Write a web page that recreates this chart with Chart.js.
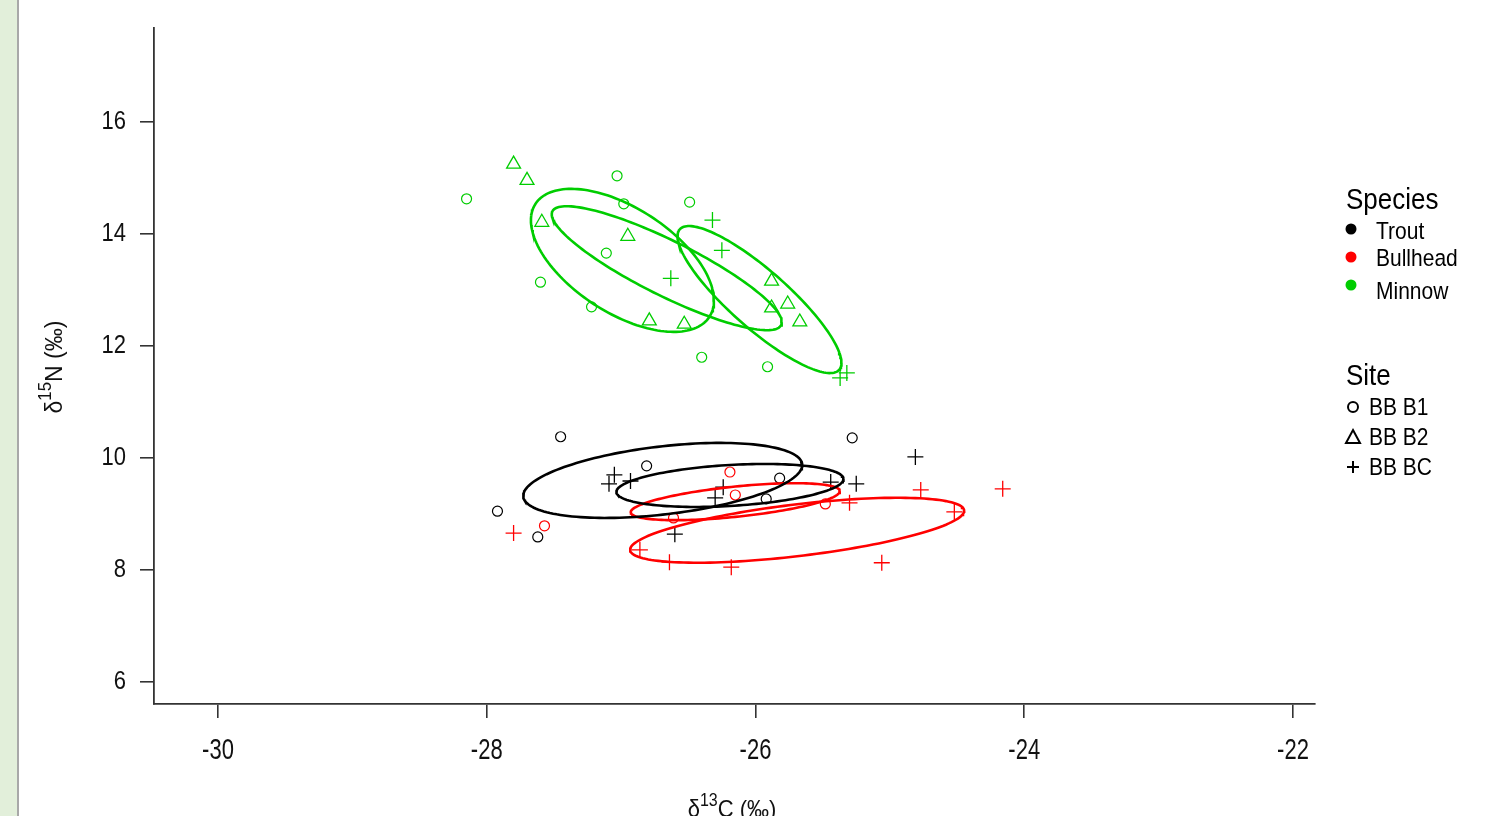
<!DOCTYPE html>
<html>
<head>
<meta charset="utf-8">
<title>Stable isotope biplot</title>
<script src="https://cdn.jsdelivr.net/npm/chart.js@4.4.0/dist/chart.umd.min.js"></script>
<style>
  html, body { margin: 0; padding: 0; background: #ffffff; overflow: hidden; }
  #strip { position: absolute; left: 0; top: 0; width: 17px; height: 816px; background: #e2efda; border-right: 2px solid #a8a8a8; }
  #wrap { position: absolute; left: 0; top: 0; width: 1512px; height: 816px; }
</style>
</head>
<body>
<div id="strip"></div>
<div id="wrap"><canvas id="c" width="1512" height="816"></canvas></div>
<script>
// ---- axis ticks ----
const xTicks = [-30, -28, -26, -24, -22];
const yTicks = [6, 8, 10, 12, 14, 16];

// ---- legend ----
const speciesNames  = ['Trout', 'Bullhead', 'Minnow'];
const speciesColors = ['#000000', '#ff0000', '#00cd00'];
const siteNames     = ['BB B1', 'BB B2', 'BB BC'];
const siteStyles    = ['circle', 'triangle', 'cross'];

// ---- samples: d13C (x) and d15N (y) ----
// Trout
const troutB1_C = [-27.45, -25.28, -26.81, -25.82, -25.92, -27.92, -27.62];
const troutB1_N = [10.38, 10.36, 9.86, 9.64, 9.27, 9.05, 8.59];
const troutBC_C = [-24.81, -25.25, -27.05, -27.09, -26.93, -26.24, -26.30, -26.60, -25.44];
const troutBC_N = [10.02, 9.54, 9.70, 9.54, 9.59, 9.48, 9.29, 8.64, 9.57];
// Bullhead
const bullB1_C = [-26.19, -26.15, -27.57, -25.48, -26.61];
const bullB1_N = [9.75, 9.34, 8.79, 9.18, 8.93];
const bullBC_C = [-27.80, -24.16, -24.77, -25.30, -24.52, -26.86, -26.64, -26.18, -25.06];
const bullBC_N = [8.66, 9.45, 9.43, 9.20, 9.04, 8.36, 8.14, 8.05, 8.13];
// Minnow
const minB1_C = [-28.15, -27.03, -26.98, -26.49, -27.11, -27.60, -27.22, -26.40, -25.91];
const minB1_N = [14.63, 15.04, 14.54, 14.57, 13.66, 13.14, 12.70, 11.80, 11.63];
const minB2_C = [-27.80, -27.70, -27.59, -26.95, -26.79, -26.53, -25.88, -25.88, -25.76, -25.67];
const minB2_N = [15.25, 14.96, 14.21, 13.96, 12.45, 12.39, 13.16, 12.68, 12.75, 12.43];
const minBC_C = [-26.32, -26.25, -26.63, -25.37, -25.32];
const minBC_N = [14.25, 13.71, 13.21, 11.43, 11.52];

// ---- standard ellipses: centre, half-extent in C and N, correlation ----
const ellSpecies = [0, 0, 1, 1, 2, 2, 2];
const ellCx  = [-26.69, -26.19, -26.15, -25.69, -26.99, -26.66, -25.97];
const ellCy  = [9.60, 9.51, 9.22, 8.71, 13.53, 13.39, 12.83];
const ellSx  = [1.038, 0.845, 0.778, 1.243, 0.681, 0.856, 0.610];
const ellSy  = [0.670, 0.384, 0.330, 0.580, 1.277, 1.107, 1.313];
const ellRho = [0.41, 0.30, 0.57, 0.60, -0.56, -0.87, -0.86];

const FONT = "'Liberation Sans', Arial, Helvetica, sans-serif";
const AXIS_COLOR = '#333333';

function pairs(xs, ys) { return xs.map((x, i) => ({ x: x, y: ys[i] })); }

function ellipseOutline(k, steps) {
  const pts = [];
  const s = Math.sqrt(1 - ellRho[k] * ellRho[k]);
  for (let i = 0; i <= steps; i++) {
    const t = (i / steps) * Math.PI * 2;
    pts.push({
      x: ellCx[k] + ellSx[k] * Math.cos(t),
      y: ellCy[k] + ellSy[k] * (ellRho[k] * Math.cos(t) + s * Math.sin(t))
    });
  }
  return pts;
}

function pointSet(xs, ys, species, site) {
  const style = siteStyles[site];
  return {
    label: speciesNames[species] + ' ' + siteNames[site],
    data: pairs(xs, ys),
    pointStyle: style,
    pointRadius: style === 'circle' ? 5 : 8,
    pointBorderWidth: style === 'circle' ? 1.2 : 1.3,
    pointBorderColor: speciesColors[species],
    pointBackgroundColor: 'rgba(0,0,0,0)',
    borderColor: speciesColors[species],
    showLine: false
  };
}

const datasets = [];
for (let k = 0; k < ellCx.length; k++) {
  datasets.push({
    label: 'ellipse ' + k,
    data: ellipseOutline(k, 160),
    showLine: true,
    borderColor: speciesColors[ellSpecies[k]],
    borderWidth: 2.6,
    pointRadius: 0,
    tension: 0,
    fill: false
  });
}
datasets.push(pointSet(troutB1_C, troutB1_N, 0, 0));
datasets.push(pointSet(troutBC_C, troutBC_N, 0, 2));
datasets.push(pointSet(bullB1_C, bullB1_N, 1, 0));
datasets.push(pointSet(bullBC_C, bullBC_N, 1, 2));
datasets.push(pointSet(minB1_C, minB1_N, 2, 0));
datasets.push(pointSet(minB2_C, minB2_N, 2, 1));
datasets.push(pointSet(minBC_C, minBC_N, 2, 2));

// text drawn with a vertical stretch (the plot device renders tall glyphs)
function tallText(ctx, text, x, y, size, stretch) {
  ctx.save();
  ctx.translate(x, y);
  ctx.scale(1, stretch);
  ctx.font = size + 'px ' + FONT;
  ctx.fillText(text, 0, 0);
  ctx.restore();
}

// text with a raised, smaller run in the middle: delta, isotope mass, element
function supText(ctx, pre, sup, post, size) {
  ctx.font = size + 'px ' + FONT;
  const w1 = ctx.measureText(pre).width;
  const w3 = ctx.measureText(post).width;
  ctx.font = Math.round(size * 0.72) + 'px ' + FONT;
  const w2 = ctx.measureText(sup).width;
  const total = w1 + w2 + w3;
  let x = -total / 2;
  ctx.font = size + 'px ' + FONT;
  ctx.fillText(pre, x, 0); x += w1;
  ctx.font = Math.round(size * 0.72) + 'px ' + FONT;
  ctx.fillText(sup, x, -size * 0.45); x += w2;
  ctx.font = size + 'px ' + FONT;
  ctx.fillText(post, x, 0);
}

function drawMarker(ctx, style, x, y, color) {
  ctx.strokeStyle = color;
  ctx.lineWidth = 2;
  ctx.beginPath();
  if (style === 'circle') {
    ctx.arc(x, y, 5, 0, Math.PI * 2);
  } else if (style === 'triangle') {
    ctx.moveTo(x, y - 7); ctx.lineTo(x + 7, y + 6); ctx.lineTo(x - 7, y + 6); ctx.closePath();
  } else {
    ctx.moveTo(x - 6, y); ctx.lineTo(x + 6, y);
    ctx.moveTo(x, y - 6); ctx.lineTo(x, y + 6);
  }
  ctx.stroke();
}

const annotations = {
  id: 'annotations',
  afterDraw(chart) {
    const ctx = chart.ctx;
    const xs = chart.scales.x, ys = chart.scales.y;
    ctx.save();
    ctx.fillStyle = '#111';

    // tick labels, placed by the scales
    ctx.textBaseline = 'middle';
    ctx.textAlign = 'center';
    xTicks.forEach(v => tallText(ctx, String(v), xs.getPixelForValue(v), 751, 22, 1.38));
    ctx.textAlign = 'right';
    yTicks.forEach(v => tallText(ctx, String(v), 126, ys.getPixelForValue(v), 22, 1.15));

    // x axis title
    ctx.textAlign = 'left';
    ctx.textBaseline = 'alphabetic';
    ctx.save();
    ctx.translate(732, 817);
    ctx.scale(1, 1.12);
    supText(ctx, '\u03b4', '13', 'C (\u2030)', 22);
    ctx.restore();

    // y axis title
    ctx.save();
    ctx.translate(62, 367);
    ctx.rotate(-Math.PI / 2);
    ctx.scale(1.05, 1.1);
    supText(ctx, '\u03b4', '15', 'N (\u2030)', 22);
    ctx.restore();

    // legend: species
    ctx.fillStyle = '#000';
    ctx.textBaseline = 'middle';
    ctx.textAlign = 'left';
    tallText(ctx, 'Species', 1346, 201, 26, 1.12);
    const spY = [232, 259, 292];
    const dotY = [229, 257, 285];
    speciesNames.forEach((name, i) => {
      ctx.fillStyle = speciesColors[i];
      ctx.beginPath();
      ctx.arc(1351, dotY[i], 5.5, 0, Math.PI * 2);
      ctx.fill();
      ctx.fillStyle = '#000';
      tallText(ctx, name, 1376, spY[i], 21, 1.15);
    });

    // legend: site
    tallText(ctx, 'Site', 1346, 377, 26, 1.12);
    siteNames.forEach((name, i) => {
      const y = 407 + i * 30;
      drawMarker(ctx, siteStyles[i], 1353, y, '#000');
      ctx.fillStyle = '#000';
      tallText(ctx, name, 1369, y + 1, 21, 1.15);
    });
    ctx.restore();
  }
};

new Chart(document.getElementById('c'), {
  type: 'scatter',
  data: { datasets: datasets },
  plugins: [annotations],
  options: {
    responsive: false,
    animation: false,
    events: [],
    layout: { padding: { left: 0, top: 28, right: 197, bottom: 0 } },
    plugins: { legend: { display: false }, tooltip: { enabled: false } },
    scales: {
      x: {
        type: 'linear',
        min: -30.476,
        max: -21.836,
        afterBuildTicks: s => { s.ticks = xTicks.map(v => ({ value: v })); },
        afterFit: s => { s.height = 112; },
        grid: { display: true, drawOnChartArea: false, drawTicks: true, tickLength: 14, color: AXIS_COLOR, lineWidth: 1.6 },
        border: { display: true, color: AXIS_COLOR, width: 1.8 },
        ticks: { display: false }
      },
      y: {
        type: 'linear',
        min: 5.607,
        max: 17.68,
        afterBuildTicks: s => { s.ticks = yTicks.map(v => ({ value: v })); },
        afterFit: s => { s.width = 154; },
        grid: { display: true, drawOnChartArea: false, drawTicks: true, tickLength: 14, color: AXIS_COLOR, lineWidth: 1.6 },
        border: { display: true, color: AXIS_COLOR, width: 1.8 },
        ticks: { display: false }
      }
    }
  }
});
</script>
</body>
</html>
